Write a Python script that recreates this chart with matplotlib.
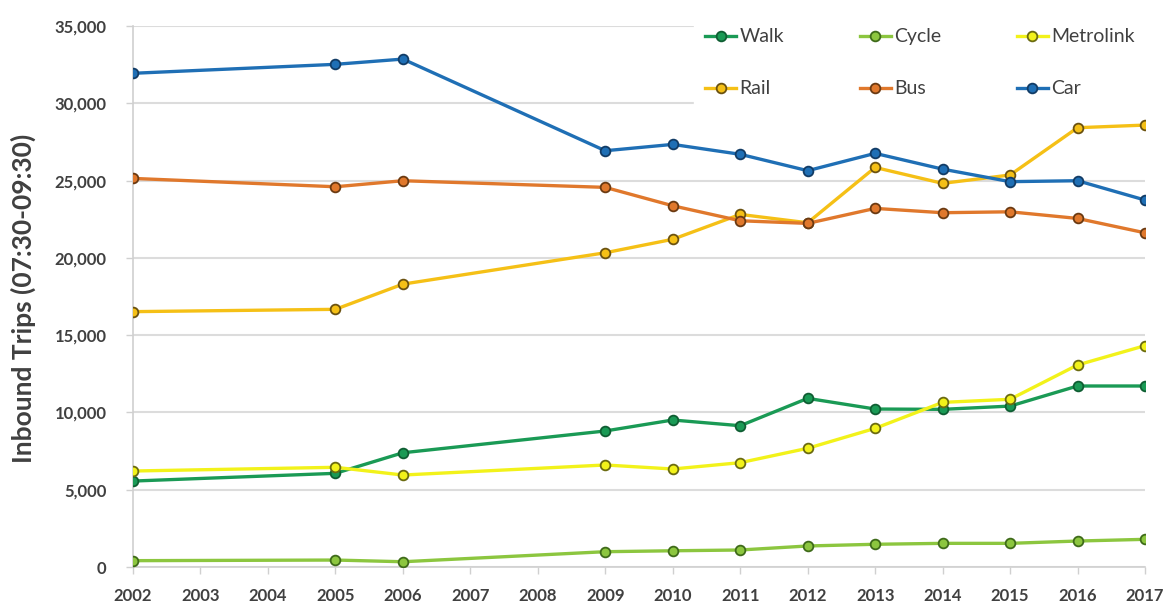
import matplotlib
matplotlib.use("Agg")
import matplotlib.pyplot as plt
from matplotlib.ticker import FuncFormatter

years = [2002, 2005, 2006, 2009, 2010, 2011, 2012, 2013, 2014, 2015, 2016, 2017]
walk      = [5560, 6060, 7390, 8800, 9510, 9140, 10910, 10220, 10200, 10410, 11710, 11710]
cycle     = [410, 450, 340, 990, 1050, 1100, 1360, 1470, 1530, 1530, 1680, 1790]
metrolink = [6210, 6450, 5950, 6600, 6340, 6750, 7680, 8970, 10650, 10850, 13070, 14320]
rail      = [16520, 16670, 18300, 20330, 21200, 22810, 22270, 25850, 24820, 25360, 28420, 28590]
bus       = [25140, 24600, 24990, 24560, 23370, 22400, 22230, 23200, 22920, 22980, 22550, 21620]
car       = [31940, 32520, 32860, 26930, 27340, 26700, 25640, 26760, 25740, 24930, 24990, 23740]

series = [
    ("Walk", walk, "#1a9a55", "#0f5e33"),
    ("Cycle", cycle, "#8cc63f", "#3f6b1a"),
    ("Metrolink", metrolink, "#f2f21a", "#6b6b10"),
    ("Rail", rail, "#f5c016", "#6b5210"),
    ("Bus", bus, "#e0782c", "#6b3a12"),
    ("Car", car, "#1f6fb5", "#123c66"),
]

plt.rcParams['font.family'] = ['Lato', 'DejaVu Sans']

fig = plt.figure(figsize=(11.72, 6.07), dpi=100)
ax = fig.add_axes([133/1172, 1-567/607, (1145-133)/1172, (567-26)/607])

handles = {}
for name, vals, col, edge in series:
    h, = ax.plot(years, vals, color=col, lw=2.4, marker='o', ms=7,
                 mfc=col, mec=edge, mew=1.3, label=name, zorder=3)
    handles[name] = h

ax.set_xlim(2002, 2017)
ax.set_ylim(0, 35000)
ax.set_xticks(range(2002, 2018))
ax.set_yticks(range(0, 35001, 5000))
ax.yaxis.set_major_formatter(FuncFormatter(lambda v, p: f"{int(v):,}"))
ax.grid(axis='y', color='#dcdcdc', lw=1.5, zorder=0)
ax.set_axisbelow(True)
for s in ['top', 'right']:
    ax.spines[s].set_visible(False)
for s in ['left', 'bottom']:
    ax.spines[s].set_color('#d0d0d0')
    ax.spines[s].set_linewidth(1.2)
ax.tick_params(axis='both', colors='#d0d0d0', labelcolor='#404040', labelsize=12, length=5, width=1)
ax.tick_params(axis='x', pad=10)
ax.tick_params(axis='y', pad=14)
for lab in ax.get_xticklabels() + ax.get_yticklabels():
    lab.set_fontweight('bold')
ax.set_ylabel("Inbound Trips (07:30-09:30)", fontsize=19, fontweight='bold', color='#404040')
ax.yaxis.set_label_coords(23/1172, 1-298/607, transform=fig.transFigure)
ax.yaxis.label.set_va('center')

order = ["Walk", "Rail", "Cycle", "Bus", "Metrolink", "Car"]
leg = ax.legend([handles[n] for n in order], order, ncol=3, loc='upper left',
                bbox_to_anchor=(684/1172, 1-7/607), bbox_transform=fig.transFigure,
                frameon=True, facecolor='white', edgecolor='white', framealpha=1,
                fontsize=14, handlelength=1.6, handletextpad=0.15, columnspacing=3.9,
                labelspacing=1.8, borderpad=0.6, fancybox=False)
for t in leg.get_texts():
    t.set_color('#404040')
leg.set_zorder(5)

fig.savefig("out.png", dpi=100, facecolor='white')
